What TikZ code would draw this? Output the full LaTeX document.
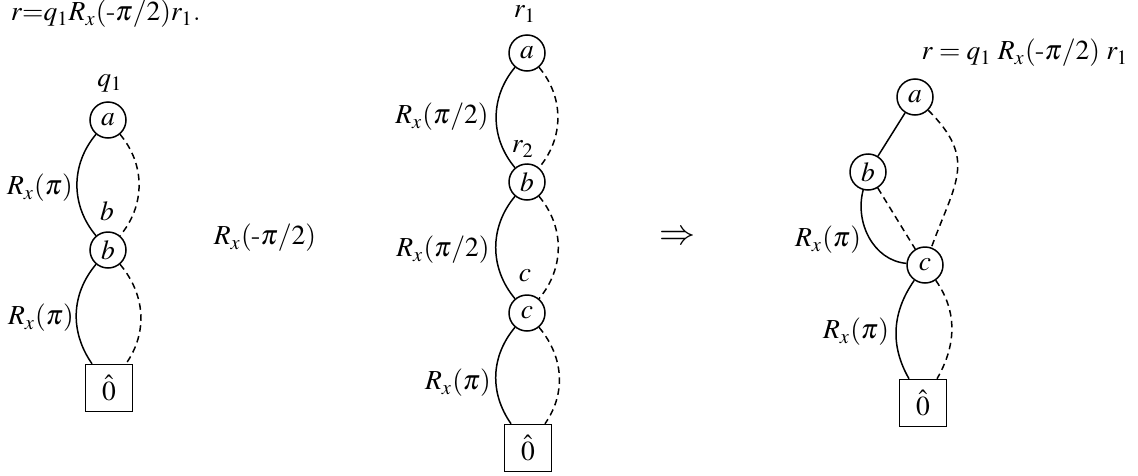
\documentclass[tikz,border=0pt]{standalone}
\usepackage{amsmath}
\usepackage{mathptmx}
\usepackage{tikz}
\usetikzlibrary{calc}

\begin{document}
\begin{tikzpicture}[
    x=0.4pt, y=0.4pt, font=\fontsize{11}{13}\selectfont,
    vnode/.style={draw, circle, line width=0.6pt, minimum size=14.4pt, inner sep=0pt},
    term/.style={draw, rectangle, line width=0.6pt, minimum size=18.8pt, inner sep=0pt},
    hi/.style={line width=0.6pt},
    lo/.style={line width=0.6pt, dash pattern=on 2.6pt off 1.8pt}
]
    \useasboundingbox (0,0) rectangle (1138,475);

    % Title
    \node[anchor=west] (title) at (2,461) {$r{=}q_1R_x(\text{-}\pi/2)r_1$.};

    % Diagram q1
    \node (qlab) at (110,392) {$q_1$};
    \node[vnode] (qa) at (108,355) {$a$};
    \node (qblab) at (107,264) {$b$};
    \node[vnode] (qb) at (108,225) {$b$};
    \node[term] (qzero) at (109,87) {$\hat{0}$};
    \node (qrx1) at (40,287) {$R_x(\pi)$};
    \node (qrx2) at (41,157) {$R_x(\pi)$};
    \draw[hi] (qa) to[out=230, in=130] (qb);
    \draw[lo] (qa) to[out=-50, in=50] (qb);
    \draw[hi] (qb) to[out=230, in=125] (qzero);
    \draw[lo] (qb) to[out=-50, in=55] (qzero);

    % Middle rotation
    \node (mid) at (265,237) {$R_x(\text{-}\pi/2)$};

    % Diagram r1
    \node (rlab) at (525,461) {$r_1$};
    \node[vnode] (ra) at (527,422) {$a$};
    \node (rrx1) at (442,358) {$R_x(\pi/2)$};
    \node (rblab) at (523,326) {$r_2$};
    \node[vnode] (rb) at (527,293) {$b$};
    \node (rrx2) at (443,225) {$R_x(\pi/2)$};
    \node (rclab) at (525,199) {$c$};
    \node[vnode] (rc) at (527,162) {$c$};
    \node (rrx3) at (458,92) {$R_x(\pi)$};
    \node[term] (rzero) at (528,27) {$\hat{0}$};
    \draw[hi] (ra) to[out=230, in=130] (rb);
    \draw[lo] (ra) to[out=-50, in=50] (rb);
    \draw[hi] (rb) to[out=230, in=130] (rc);
    \draw[lo] (rb) to[out=-50, in=50] (rc);
    \draw[hi] (rc) to[out=230, in=125] (rzero);
    \draw[lo] (rc) to[out=-50, in=55] (rzero);

    % Arrow
    \node[font=\Large] (impl) at (677,237) {$\Rightarrow$};

    % Result diagram
    \node (slab) at (1025,422) {$r = q_1\; R_x(\text{-}\pi/2)\; r_1$};
    \node[vnode] (sa) at (915,378) {$a$};
    \node[vnode] (sb) at (868,303) {$b$};
    \node[vnode] (sc) at (925,210) {$c$};
    \node[term] (szero) at (923,72) {$\hat{0}$};
    \node (srx1) at (828,235) {$R_x(\pi)$};
    \node (srx2) at (856,143) {$R_x(\pi)$};
    \draw[hi] (sa) -- (sb);
    \draw[lo] (sa) to[out=-45, in=70, looseness=1.3] (sc);
    \draw[lo] (sb) -- (sc);
    \draw[hi] (sb) to[out=255, in=175] (sc);
    \draw[hi] (sc) to[out=235, in=120] (szero);
    \draw[lo] (sc) to[out=-55, in=60] (szero);
\end{tikzpicture}
\end{document}
